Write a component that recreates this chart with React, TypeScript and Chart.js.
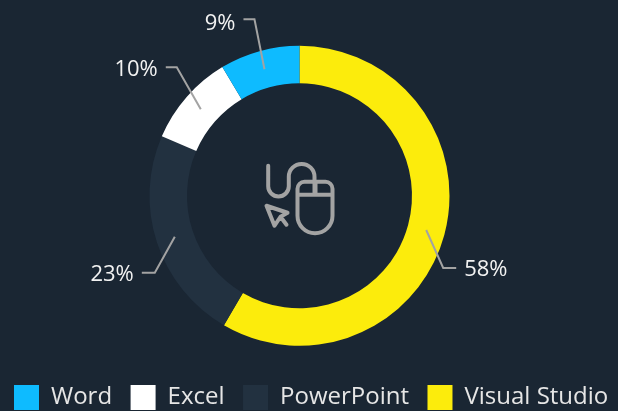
import React, { useEffect, useRef } from "react";
import { Chart, registerables, layouts } from "chart.js";

Chart.register(...registerables);

const categories = ["Visual Studio", "PowerPoint", "Excel", "Word"];
const shares = [58.4, 23.1, 9.9, 8.6];
const shareLabels = ["58%", "23%", "10%", "9%"];
const sliceColors = ["#fcec0c", "#223140", "#ffffff", "#0ebbff"];

const BG = "#1a2633";
const LINE = "#a3a3a3";
const FONT = '"Open Sans", sans-serif';

// Hand-placed callouts, relative to the middle of each ring segment: elbow offset, run and label drop.
const calloutElbows = [
  { dx: 17, dy: 38, run: 13, drop: 2 },
  { dx: -20, dy: 36, run: -13, drop: 2 },
  { dx: -24, dy: -42, run: -11, drop: 2 },
  { dx: -10, dy: -50, run: -11, drop: 4 },
];

// Empty layout box: moves the ring left of the canvas centre without narrowing the legend.
const spacerPlugin = {
  id: "spacer",
  start(chart: any) {
    layouts.addBox(chart, {
      position: "right",
      weight: 0,
      width: 39,
      height: 0,
      options: {},
      isHorizontal: () => false,
      update() {},
      draw() {},
    } as any);
  },
};

const calloutPlugin = {
  id: "callouts",
  afterDatasetsDraw(chart: any) {
    const { ctx } = chart;
    const arcs = chart.getDatasetMeta(0).data;
    arcs.forEach((arc: any, i: number) => {
      const p = arc.getCenterPoint();
      const e = calloutElbows[i];
      const ex = p.x + e.dx;
      const ey = p.y + e.dy;
      const tx = ex + e.run;
      ctx.save();
      ctx.strokeStyle = LINE;
      ctx.lineWidth = 2;
      ctx.beginPath();
      ctx.moveTo(p.x, p.y);
      ctx.lineTo(ex, ey);
      ctx.lineTo(tx, ey);
      ctx.stroke();
      ctx.fillStyle = "#f2f2f2";
      ctx.font = `22px ${FONT}`;
      ctx.textBaseline = "middle";
      ctx.textAlign = e.run < 0 ? "right" : "left";
      ctx.fillText(shareLabels[i], tx + (e.run < 0 ? -8 : 8), ey + e.drop);
      ctx.restore();
    });
  },
};

const iconPlugin = {
  id: "centerIcon",
  afterDatasetsDraw(chart: any) {
    const { ctx } = chart;
    const p = chart.getDatasetMeta(0).data[0];
    ctx.save();
    ctx.translate(p.x - 300, p.y - 196);
    ctx.strokeStyle = LINE;
    ctx.lineWidth = 4;
    ctx.lineCap = "round";
    ctx.lineJoin = "round";
    ctx.stroke(
      new Path2D(
        "M268.7 166 V186.5 A10.3 10.3 0 0 0 289.3 186.5 V177 A12.8 12.8 0 0 1 315 177 V195" +
          "M305 182 H326 A7 7 0 0 1 333 189 V216 A17.5 17.5 0 0 1 298 216 V189 A7 7 0 0 1 305 182 Z" +
          "M298 195 H333 M316 182 V195" +
          "M267 206 L288 213 L281 217 L275 226 Z M281 217 L287 225",
      ),
    );
    ctx.restore();
  },
};

export default function App() {
  const ref = useRef<HTMLCanvasElement>(null);
  useEffect(() => {
    const chart = new Chart(ref.current!, {
      type: "doughnut",
      data: {
        labels: categories,
        datasets: [{ data: shares, backgroundColor: sliceColors, borderWidth: 0 }],
      },
      options: {
        animation: false,
        responsive: false,
        radius: 150,
        cutout: "75%",
        layout: { padding: { top: 25, bottom: -9, left: -4.5, right: -20 } },
        plugins: {
          tooltip: { enabled: false },
          legend: {
            position: "bottom",
            align: "start",
            reverse: true,
            labels: {
              boxWidth: 25,
              boxHeight: 25,
              padding: 18.5,
              color: "#e6e6e6",
              font: { family: FONT, size: 24 },
            },
          },
        },
      } as any,
      plugins: [spacerPlugin, iconPlugin, calloutPlugin],
    });
    return () => chart.destroy();
  }, []);
  return (
    <div style={{ position: "absolute", left: 0, top: 0, width: 618, height: 411, background: BG }}>
      <canvas ref={ref} width={618} height={411} style={{ display: "block" }} />
    </div>
  );
}
